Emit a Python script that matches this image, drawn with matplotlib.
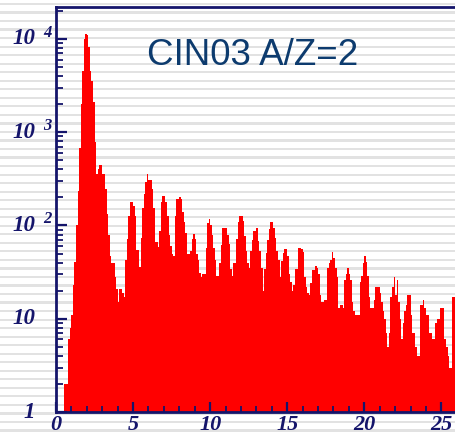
import matplotlib
matplotlib.use("Agg")
import matplotlib.pyplot as plt
import matplotlib.transforms as mtransforms
from matplotlib.ticker import FixedLocator, NullFormatter, LogLocator
import numpy as np

TITLE = "CIN03 A/Z=2"

BIN_WIDTH = 0.1
X_START = 0.0

# counts per 0.1-wide bin, starting at x = 0
COUNTS = [
    0, 0, 0, 0, 0, 2, 2, 2, 6, 8,
    11, 23, 41, 102, 234, 670, 2000, 4500, 10000, 11300,
    11000, 8200, 4500, 3500, 2100, 780, 355, 400, 445, 445,
    360, 360, 245, 132, 80, 47, 40, 40, 28, 21,
    15, 21, 21, 19, 17, 43, 71, 125, 178, 178,
    160, 125, 55, 55, 36, 74, 155, 220, 290, 360,
    310, 310, 245, 155, 67, 67, 59, 87, 178, 205,
    205, 178, 125, 80, 60, 49, 47, 125, 190, 190,
    200, 190, 141, 110, 84, 49, 50, 53, 71, 82,
    72, 50, 43, 31, 28, 30, 30, 58, 105, 116,
    102, 80, 58, 43, 29, 29, 40, 61, 95, 95,
    95, 80, 64, 34, 29, 40, 40, 71, 108, 125,
    125, 112, 77, 53, 40, 35, 53, 69, 87, 87,
    95, 68, 53, 35, 20, 34, 51, 70, 91, 108,
    108, 93, 74, 53, 43, 28, 42, 51, 56, 56,
    47, 30, 25, 20, 23, 34, 34, 58, 58, 56,
    52, 28, 22, 19, 18, 24, 33, 33, 37, 35,
    30, 18, 15, 15, 16, 16, 35, 40, 43, 52,
    45, 35, 28, 13, 14, 14, 13, 26, 30, 35,
    30, 26, 15, 12, 11, 11, 11, 25, 29, 40,
    47, 41, 29, 17, 13, 13, 16, 22, 22, 22,
    19, 15, 12, 10, 7, 5, 7, 17, 22, 28,
    18, 26, 15, 10, 6, 9, 12, 14, 18, 18,
    11, 7, 7, 5, 4, 4, 14, 14, 16, 13,
    11, 11, 7, 7, 6, 6, 9, 10, 10, 13,
    13, 13, 6, 5, 4, 3, 3, 17, 17, 12,
]

X_TICKS = [0, 5, 10, 15, 20, 25]
Y_DECADES = [1, 10, 100, 1000, 10000]
Y_BASE_LABELS = ["1", "10", "10", "10", "10"]
Y_EXP_LABELS = ["", "", "2", "3", "4"]

NAVY = "#15156b"
TITLE_COLOR = "#0d3b6e"
SERIF = ["Liberation Serif", "DejaVu Serif"]

W, H = 456, 437
fig = plt.figure(figsize=(W / 100, H / 100), dpi=100)
fig.patch.set_facecolor("white")

# striped background behind everything
bg = fig.add_axes([0, 0, 1, 1], zorder=-1)
bg.set_xlim(0, W)
bg.set_ylim(H, 0)
bg.axis("off")
for yc in np.arange(4.0, H, 8.53):
    bg.axhspan(yc - 1.1, yc + 1.1, color="#e2e2e2", lw=0)

left, bottom, top = 56 / W, 25 / H, 430 / H
ax = fig.add_axes([left, bottom, 1.0 - left, top - bottom])
ax.set_facecolor("none")

edges = X_START + BIN_WIDTH * np.arange(len(COUNTS) + 1)
counts = np.array(COUNTS, dtype=float)
counts = np.where(counts > 0, counts, 0.5)
ax.stairs(counts, edges, fill=True, color="#ff0000", baseline=0.5, lw=0,
          antialiased=False)

ax.set_yscale("log")
ax.set_ylim(1, 22000)
ax.set_xlim(0, 25.95)

# ticks
ax.xaxis.set_major_locator(FixedLocator(X_TICKS))
ax.xaxis.set_minor_locator(FixedLocator(np.arange(0, 26, 1)))
ax.yaxis.set_major_locator(FixedLocator(Y_DECADES))
ax.yaxis.set_minor_locator(LogLocator(base=10, subs=np.arange(2, 10)))
ax.yaxis.set_major_formatter(NullFormatter())
ax.yaxis.set_minor_formatter(NullFormatter())
ax.tick_params(axis="both", which="both", direction="in", color=NAVY)
ax.tick_params(axis="x", which="major", length=7, width=1.6, pad=2)
ax.tick_params(axis="x", which="minor", length=4, width=1.3)
ax.tick_params(axis="y", which="major", length=8, width=1.6, right=False)
ax.tick_params(axis="y", which="minor", length=5, width=1.3, right=False)
ax.set_xticklabels([str(t) for t in X_TICKS], fontfamily=SERIF,
                   fontweight="bold", fontstyle="italic", fontsize=16, color=NAVY)

# y labels drawn ROOT-style: base number plus raised exponent
ytrans = ax.get_yaxis_transform()
sup_trans = mtransforms.offset_copy(ytrans, fig=fig, x=0, y=6, units="dots")
for val, base, exp in zip(Y_DECADES, Y_BASE_LABELS, Y_EXP_LABELS):
    ax.text(-21 / 400, val, base, transform=ytrans, ha="right", va="center",
            fontfamily=SERIF, fontweight="bold", fontstyle="italic",
            fontsize=16.5, color=NAVY)
    if exp:
        ax.text(-13 / 400, val, exp, transform=sup_trans, ha="left", va="center",
                fontfamily=SERIF, fontweight="bold", fontstyle="italic",
                fontsize=12, color=NAVY)

for side in ["left", "top", "bottom"]:
    ax.spines[side].set_color(NAVY)
    ax.spines[side].set_linewidth(2)
ax.spines["right"].set_visible(False)

fig.text(147 / W, 1 - 65 / H, TITLE, fontfamily=["Liberation Sans", "DejaVu Sans"],
         fontsize=26.5, color=TITLE_COLOR, ha="left", va="baseline")

fig.savefig("out.png", dpi=100)
